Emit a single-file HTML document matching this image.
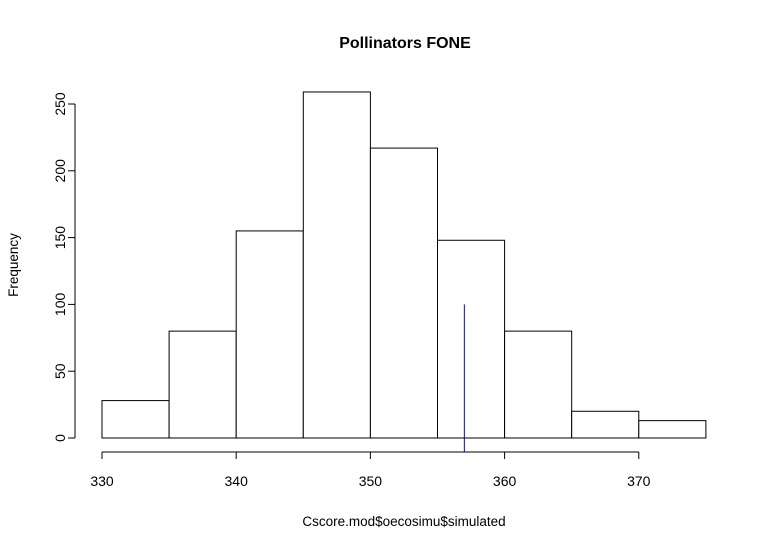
<!DOCTYPE html>
<html><head><meta charset="utf-8"><style>body{margin:0;background:#fff}svg{display:block;font-family:"Liberation Sans",Arial,sans-serif}</style></head>
<body>
<svg width="771" height="550" viewBox="0 0 771 550" xmlns="http://www.w3.org/2000/svg">
<rect width="771" height="550" fill="#fff"/>
<text x="405" y="48" text-anchor="middle" font-size="16" font-weight="bold">Pollinators FONE</text>
<text x="404" y="526" text-anchor="middle" font-size="13.5">Cscore.mod$oecosimu$simulated</text>
<text transform="translate(18,265) rotate(-90)" text-anchor="middle" font-size="13.5">Frequency</text>
<g id="bars"></g><g id="axes"></g>
</svg>
<script>
const binStarts=[330,335,340,345,350,355,360,365,370];
const counts=[28,80,155,259,217,148,80,20,13];
const binWidth=5;
const xTicks=[330,340,350,360,370];
const yTicks=[0,50,100,150,200,250];
const observed=357;
const observedHeight=100;
const NS='http://www.w3.org/2000/svg';
const X=v=>102+(v-330)*13.42;
const Y=v=>438-v*(334/250);
function mk(t,a,p){const e=document.createElementNS(NS,t);for(const k in a)e.setAttribute(k,a[k]);p.appendChild(e);return e;}
const bars=document.getElementById('bars'),axes=document.getElementById('axes');
binStarts.forEach((b,i)=>{
 const r=mk('rect',{x:X(b),y:Y(counts[i]),width:X(b+binWidth)-X(b),height:Y(0)-Y(counts[i]),fill:'#fff',stroke:'#000','stroke-width':1},bars);
 
 
});
const ol=mk('line',{x1:X(observed),x2:X(observed),y1:452,y2:Y(observedHeight),stroke:'#10106a','stroke-width':1},bars);


const xa=mk('g',{},axes);


mk('line',{x1:X(xTicks[0]),x2:X(xTicks[xTicks.length-1]),y1:452,y2:452,stroke:'#000'},xa);
xTicks.forEach(t=>{mk('line',{x1:X(t),x2:X(t),y1:452,y2:459,stroke:'#000'},xa);
 const tx=mk('text',{x:X(t),y:486,'text-anchor':'middle','font-size':14},xa);tx.textContent=t;
 
 });
const ya=mk('g',{},axes);


mk('line',{x1:75,x2:75,y1:Y(yTicks[0]),y2:Y(yTicks[yTicks.length-1]),stroke:'#000'},ya);
yTicks.forEach(t=>{mk('line',{x1:68,x2:75,y1:Y(t),y2:Y(t),stroke:'#000'},ya);
 const tx=mk('text',{transform:`translate(65,${Y(t)}) rotate(-90)`,'text-anchor':'middle','font-size':14},ya);tx.textContent=t;
 
 });
</script>
</body></html>
